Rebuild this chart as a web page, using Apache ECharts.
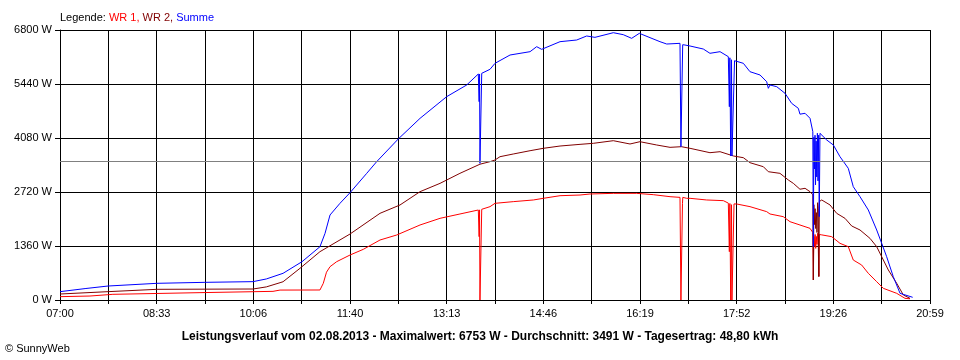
<!DOCTYPE html>
<html>
<head>
<meta charset="utf-8">
<script src="https://cdn.jsdelivr.net/npm/echarts@6/dist/echarts.min.js"></script>
<style>html,body{margin:0;padding:0;background:#fff}#c{width:960px;height:360px}</style>
</head>
<body>
<div id="c"></div>
<script>
// x values: minutes after 07:00
var tickLabels = ['07:00','08:33','10:06','11:40','13:13','14:46','16:19','17:52','19:26','20:59'];
var yTicks = [0,1360,2720,4080,5440,6800];
var averageW = 3491;

var wr1Min = [0,28.9,51,135,205.4,212.2,250.7,253.9,257,260.4,266.8,279.7,292.5,308.6,324.7,347.2,366.5,385.7,403.4,
  404.2,404.6,405.0,406.3,406.7,414.7,419.5,437.1,456.5,466.1,482.2,501.5,511.1,533.6,556.1,572.2,588.3,597.9,
  598.8,600.0,600.3,600.6,604.4,607.6,623.6,639.7,644.5,
  645.5,646.0,646.8,647.6,648.0,649.5,650.0,652.6,665.4,681.5,684.7,697.5,704,713.6,723.3,
  726.0,726.5,727.0,727.6,728.2,728.8,729.4,730.0,730.6,731.2,731.8,732.3,734.6,736.1,744.2,752.2,760.2,765,773.1,779.5,787.6,794,806.9,814.9,819.7];
var wr1W = [84,100,143,185,218,250,252,420,700,839,965,1133,1276,1511,1637,1889,2057,2166,2267,
  1595,2270,0,0,2284,2351,2435,2477,2519,2561,2627,2644,2670,2686,2686,2653,2602,2585,
  0,0,2435,2585,2561,2561,2519,2502,2440,
  1217,2430,0,2400,0,0,2420,2418,2351,2225,2166,2099,1972,1889,1805,
  1700,504,1600,1350,1650,1300,1600,1400,1680,1450,600,1650,1640,1612,1595,1427,1343,1007,881,672,461,294,168,42,30];

var wr2Min = [0,46.3,93.5,186.1,199,212.2,215.1,231.4,250.7,279.7,308.6,327.9,347.2,366.5,385.7,405,414.7,419.5,424.3,437.1,453.3,466.1,482.2,501.5,514.3,533.6,549.7,559.3,575.4,588.3,599.3,607.6,626.8,636.5,649.5,659,665.4,678.3,683.1,694.3,702.4,707.2,713.6,718.5,723.3,
  726.0,726.5,727.0,727.6,728.2,728.8,729.4,730.0,730.6,731.2,731.8,732.3,734.6,742.6,749,757,763.5,771.5,781.1,787.6,792.4,798.8,806.9,813.3,819.7];
var wr2W = [151,210,269,277,330,436,460,797,1217,1662,2183,2393,2728,2938,3190,3420,3484,3526,3609,3677,3760,3820,3878,3920,3946,4012,3929,3987,3904,3845,3861,3820,3710,3735,3627,3584,3458,3357,3231,3190,3022,2938,2790,2813,2728,
  2650,504,2400,1900,2300,1800,2200,1700,2450,2300,587,2480,2519,2393,2183,2057,1864,1763,1553,1343,1091,756,420,126,42];

var sumMin = [0,25,46.3,93.5,139.8,186.1,199,215.1,233.4,250.7,255.6,260.4,270,279.7,295.8,305.4,326.2,347.2,372.9,392.2,403.4,
  404.2,404.6,405.0,406.3,406.7,414.7,419.5,434,453.3,459.7,464.5,482.2,498.3,507.9,515.9,533.6,543.2,551.3,558.7,578.6,585.1,597.9,
  598.8,600.0,600.5,602.7,607.6,620.4,626.8,636.5,644.5,
  645.5,646.0,646.8,647.6,648.0,649.8,650.5,651,659,665.4,675.1,681.5,683.1,684.7,691.2,699.2,705.6,712,713.6,718.5,723.3,
  726.0,726.5,727.0,727.6,728.1,728.6,729.2,729.8,730.4,731.0,731.6,732.2,732.9,734.6,739.4,745.8,752.2,760.2,765,771.5,779.5,787.6,792.4,797.2,803.6,810.1,822.3];
var sumW = [210,290,352,420,445,462,530,672,965,1342,1679,2141,2435,2703,3190,3484,4055,4575,5121,5415,5692,
  4995,5692,3442,3400,5709,5810,5961,6170,6254,6380,6313,6506,6548,6649,6615,6732,6682,6590,6716,6506,6447,6464,
  3861,3861,6430,6422,6397,6321,6213,6254,6128,
  4868,6100,3627,6050,3627,3627,6027,6027,5961,5750,5667,5498,5331,5415,5372,5205,4953,4828,4680,4702,4576,
  4239,1343,4100,3300,4150,2900,4000,3100,4200,3000,4150,2100,4198,4198,4030,3904,3609,3316,2854,2602,2267,1763,1428,1091,587,168,68];

function zip(a,b){var r=[];for(var i=0;i<a.length;i++)r.push([a[i],b[i]]);return r;}

var FONT = 'Liberation Sans';
var chart = echarts.init(document.getElementById('c'));
var span = 839;
function rs(c){return {color:c,fontSize:11,fontWeight:'normal',fontFamily:FONT};}
chart.setOption({
  animation:false,
  backgroundColor:'#fff',
  textStyle:{fontFamily:FONT},
  title:[
    {left:60,top:12,padding:0,text:'{k|Legende: }{a|WR 1, }{b|WR 2, }{c|Summe}',
     textStyle:{fontWeight:'normal',fontSize:11,rich:{k:rs('#000'),a:rs('#ff0000'),b:rs('#800000'),c:rs('#0000ff')}}},
    {left:480,textAlign:'center',top:331,padding:0,text:'Leistungsverlauf vom 02.08.2013 - Maximalwert: 6753 W - Durchschnitt: 3491 W - Tagesertrag: 48,80 kWh',
     textStyle:{fontSize:12,fontWeight:'bold',color:'#000',fontFamily:FONT}},
    {left:5,top:343,padding:0,text:'© SunnyWeb',textStyle:{fontSize:11,fontWeight:'normal',color:'#000',fontFamily:FONT}}
  ],
  grid:{left:60,top:30,width:870,height:270},
  xAxis:{type:'value',min:0,max:span,interval:span/18,
    axisLine:{lineStyle:{color:'#000',width:1}},
    axisTick:{show:true,length:4,lineStyle:{color:'#000'}},
    splitLine:{show:true,lineStyle:{color:'#000',width:1}},
    axisLabel:{color:'#000',fontSize:11,margin:8,fontFamily:FONT,
      formatter:function(v){var k=Math.round(v/(span/18)); return k%2===0 ? tickLabels[k/2] : '';}}
  },
  yAxis:{type:'value',min:yTicks[0],max:yTicks[yTicks.length-1],interval:yTicks[1]-yTicks[0],
    axisLine:{show:true,lineStyle:{color:'#000',width:1}},
    axisTick:{show:true,length:5,lineStyle:{color:'#000'}},
    splitLine:{show:true,lineStyle:{color:'#000',width:1}},
    axisLabel:{color:'#000',fontSize:11,margin:8,fontFamily:FONT,formatter:function(v){return String(v)+' W';}}
  },
  series:[
    {name:'WR 1',type:'line',data:zip(wr1Min,wr1W),showSymbol:false,symbol:'none',lineStyle:{color:'#ff0000',width:1},itemStyle:{color:'#ff0000'},
     markLine:{silent:true,symbol:'none',label:{show:false},lineStyle:{color:'#808080',type:'solid',width:1},data:[{yAxis:averageW}]}},
    {name:'WR 2',type:'line',data:zip(wr2Min,wr2W),showSymbol:false,symbol:'none',lineStyle:{color:'#800000',width:1},itemStyle:{color:'#800000'}},
    {name:'Summe',type:'line',data:zip(sumMin,sumW),showSymbol:false,symbol:'none',lineStyle:{color:'#0000ff',width:1},itemStyle:{color:'#0000ff'}}
  ]
});
</script>
</body>
</html>
